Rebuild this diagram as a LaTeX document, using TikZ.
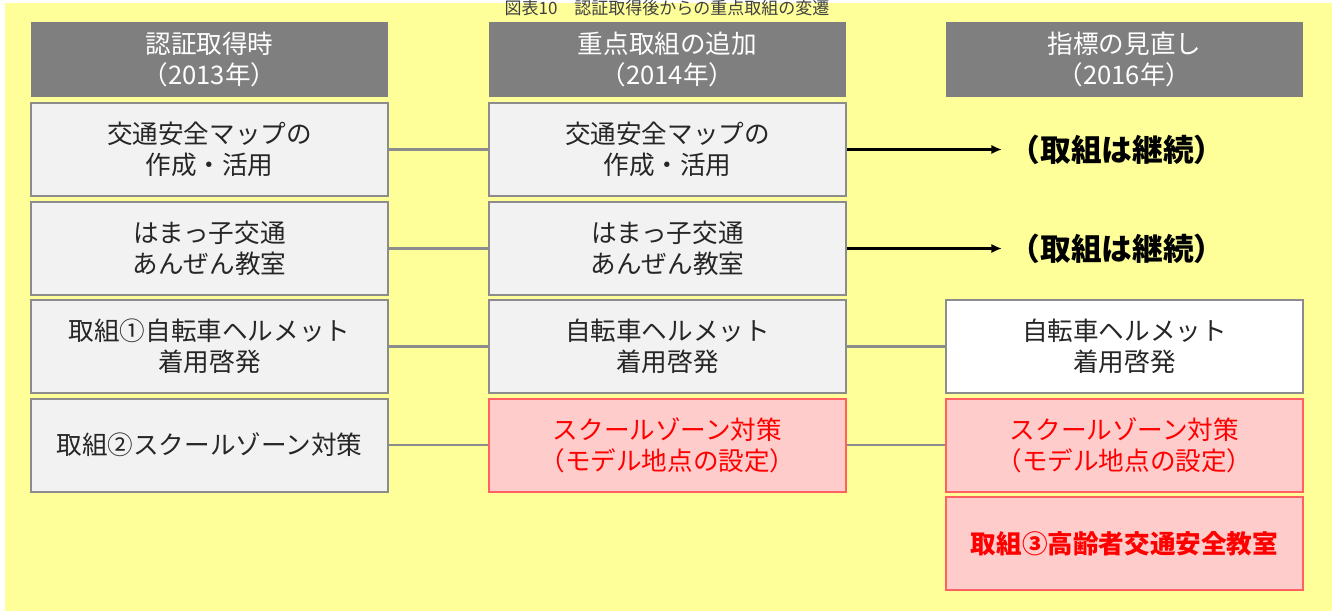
\documentclass[tikz,border=0pt]{standalone}
\usepackage{fontspec}
\setmainfont{Noto Sans CJK JP}
\usetikzlibrary{arrows.meta}
\definecolor{bgyellow}{HTML}{FFFF99}
\definecolor{hdrgray}{HTML}{7F7F7F}
\definecolor{boxfill}{HTML}{F2F2F2}
\definecolor{boxline}{HTML}{8C8C8C}
\definecolor{redfill}{HTML}{FFCCCC}
\definecolor{redline}{HTML}{FF6161}
\definecolor{titlegray}{HTML}{404040}
\tikzset{
  base/.style={inner sep=0pt, align=center, minimum width=267.75pt, font=\fontsize{19.2}{23.4}\selectfont},
  header/.style={base, fill=hdrgray, text=white, minimum height=56.25pt},
  graybox/.style={base, fill=boxfill, draw=boxline, line width=1.5pt, minimum height=69.75pt, text=black!85},
  whitebox/.style={graybox, fill=white},
  redbox/.style={base, fill=redfill, draw=redline, line width=1.5pt, minimum height=69.75pt, text=red},
  link/.style={draw=boxline, line width=1.8pt},
  contarrow/.style={draw=black, line width=1.8pt, -{Latex[length=8pt,width=7pt]}},
  conttext/.style={inner sep=0pt, font=\fontsize{23}{27}\selectfont\bfseries}
}
\begin{document}
\begin{tikzpicture}[x=0.75pt,y=-0.75pt]
\useasboundingbox (0,0) rectangle (1332,611);
\fill[bgyellow] (5,3) rectangle (1332,611);
\node[inner sep=0pt, text=titlegray, font=\fontsize{12.75}{14}\selectfont] (title) at (667,8) {図表10\quad 認証取得後からの重点取組の変遷};
% headers
\node[header] (h1) at (209.5,59.5) {認証取得時\\（2013年）};
\node[header] (h2) at (667.5,59.5) {重点取組の追加\\（2014年）};
\node[header] (h3) at (1124.5,59.5) {指標の見直し\\（2016年）};
% column 1
\node[graybox] (a1) at (209.5,149.5) {交通安全マップの\\作成・活用};
\node[graybox] (a2) at (209.5,248.5) {はまっ子交通\\あんぜん教室};
\node[graybox] (a3) at (209.5,346.5) {取組①自転車ヘルメット\\着用啓発};
\node[graybox] (a4) at (209.5,445) {取組②スクールゾーン対策};
% column 2
\node[graybox] (b1) at (667.5,149.5) {交通安全マップの\\作成・活用};
\node[graybox] (b2) at (667.5,248.5) {はまっ子交通\\あんぜん教室};
\node[graybox] (b3) at (667.5,346.5) {自転車ヘルメット\\着用啓発};
\node[redbox] (b4) at (667.5,445) {スクールゾーン対策\\（モデル地点の設定）};
% column 3
\node[whitebox] (c3) at (1124.5,346.5) {自転車ヘルメット\\着用啓発};
\node[redbox] (c4) at (1124.5,445) {スクールゾーン対策\\（モデル地点の設定）};
\node[redbox, font=\fontsize{19.2}{23.4}\selectfont\bfseries] (c5) at (1124.5,543.5) {取組③高齢者交通安全教室};
% continued
\node[conttext] (k1) at (1117,150) {（取組は継続）};
\node[conttext] (k2) at (1117,248.5) {（取組は継続）};
\coordinate (e1) at (1002,149.5);
\coordinate (e2) at (1002,248.5);
% connectors
\draw[link] (a1) -- (b1);
\draw[link] (a2) -- (b2);
\draw[link] (a3) -- (b3);
\draw[link] (a4) -- (b4);
\draw[link] (b3) -- (c3);
\draw[link] (b4) -- (c4);
\draw[contarrow] (b1.east) -- (e1);
\draw[contarrow] (b2.east) -- (e2);
\end{tikzpicture}
\end{document}
